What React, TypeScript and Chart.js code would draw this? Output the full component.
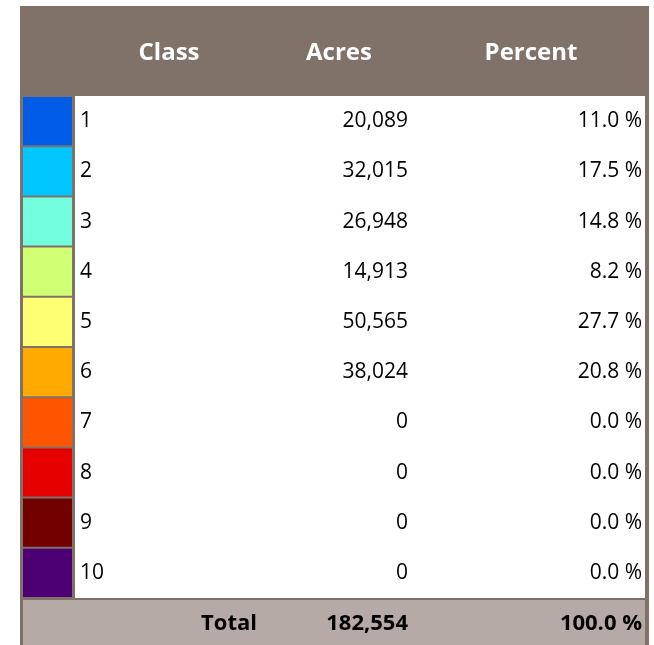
import React, { useEffect, useRef } from "react";
import { Chart, registerables } from "chart.js";

Chart.register(...registerables);

const headers = ["Class", "Acres", "Percent"];
const classes = ["1", "2", "3", "4", "5", "6", "7", "8", "9", "10"];
const acres = [20089, 32015, 26948, 14913, 50565, 38024, 0, 0, 0, 0];
const percents = [11.0, 17.5, 14.8, 8.2, 27.7, 20.8, 0.0, 0.0, 0.0, 0.0];
const classColors = [
  "#005ce6",
  "#00c5ff",
  "#73ffdf",
  "#d1ff73",
  "#ffff73",
  "#ffaa00",
  "#ff5500",
  "#e60000",
  "#730000",
  "#4c0073",
];
const totalLabel = "Total";
const totalAcres = 182554;
const totalPercent = 100.0;

const HEADER_BG = "#807169";
const BORDER = "#807169";
const TOTAL_BG = "#b5aaa6";
const FONT = '"Open Sans", "Noto Sans", sans-serif';

const fmtAcres = (v: number) => v.toLocaleString("en-US");
const fmtPct = (v: number) => v.toFixed(1) + " %";

const tablePlugin = {
  id: "tablePlugin",
  beforeDraw(chart: any) {
    const ctx = chart.ctx as CanvasRenderingContext2D;
    const { width, height, chartArea } = chart;
    const ca = chartArea;
    ctx.save();
    ctx.fillStyle = "#ffffff";
    ctx.fillRect(0, 0, width, height);
    // header
    ctx.fillStyle = HEADER_BG;
    ctx.fillRect(20, 6, 629, ca.top - 6);
    // swatch column border
    ctx.fillStyle = BORDER;
    ctx.fillRect(20, ca.top, ca.right + 3 - 20, ca.bottom - ca.top);
    // right border
    ctx.fillRect(645, ca.top, 4, height - ca.top);
    // total row
    ctx.fillStyle = TOTAL_BG;
    ctx.fillRect(20, ca.bottom, 625, height - ca.bottom);
    ctx.fillStyle = BORDER;
    ctx.fillRect(20, ca.bottom, 629, 2);
    ctx.fillRect(20, ca.bottom, 3, height - ca.bottom);
    ctx.restore();
  },
  afterDraw(chart: any) {
    const ctx = chart.ctx as CanvasRenderingContext2D;
    const ca = chart.chartArea;
    const y = chart.scales.y;
    ctx.save();
    // header text
    ctx.fillStyle = "#ffffff";
    ctx.font = `bold 24px ${FONT}`;
    ctx.textAlign = "center";
    ctx.textBaseline = "alphabetic";
    const headerX = [169, 339, 531];
    headers.forEach((h, i) => ctx.fillText(h, headerX[i], 60));
    // body
    ctx.fillStyle = "#000000";
    ctx.font = `21px ${FONT}`;
    classes.forEach((c, i) => {
      const cy = y.getPixelForValue(i) + 6;
      ctx.textAlign = "left";
      ctx.fillText(c, 80, cy);
      ctx.textAlign = "right";
      ctx.fillText(fmtAcres(acres[i]), 408, cy);
      ctx.fillText(fmtPct(percents[i]), 642, cy);
    });
    // total
    ctx.font = `bold 22px ${FONT}`;
    const ty = (ca.bottom + chart.height) / 2 + 8;
    ctx.textAlign = "right";
    ctx.fillText(totalLabel, 257, ty);
    ctx.fillText(fmtAcres(totalAcres), 408, ty);
    ctx.fillText(fmtPct(totalPercent), 642, ty);
    ctx.restore();
  },
};

export default function App() {
  const ref = useRef<HTMLCanvasElement | null>(null);
  useEffect(() => {
    if (!ref.current) return;
    const chart = new Chart(ref.current, {
      type: "bar",
      data: {
        labels: classes,
        datasets: [
          {
            data: classes.map(() => [0, 1]) as any,
            backgroundColor: classColors,
            borderWidth: 0,
            barPercentage: 0.96,
            categoryPercentage: 1,
          },
        ],
      },
      options: {
        indexAxis: "y",
        responsive: true,
        maintainAspectRatio: false,
        animation: false,
        layout: { padding: { left: 23, right: 582, top: 96, bottom: 47 } },
        scales: {
          x: { display: false, min: 0, max: 1 },
          y: { display: false },
        },
        plugins: { legend: { display: false }, tooltip: { enabled: false } },
      },
      plugins: [tablePlugin],
    });
    return () => chart.destroy();
  }, []);
  return (
    <div style={{ position: "absolute", left: 0, top: 0, width: 654, height: 645 }}>
      <canvas ref={ref} />
    </div>
  );
}
